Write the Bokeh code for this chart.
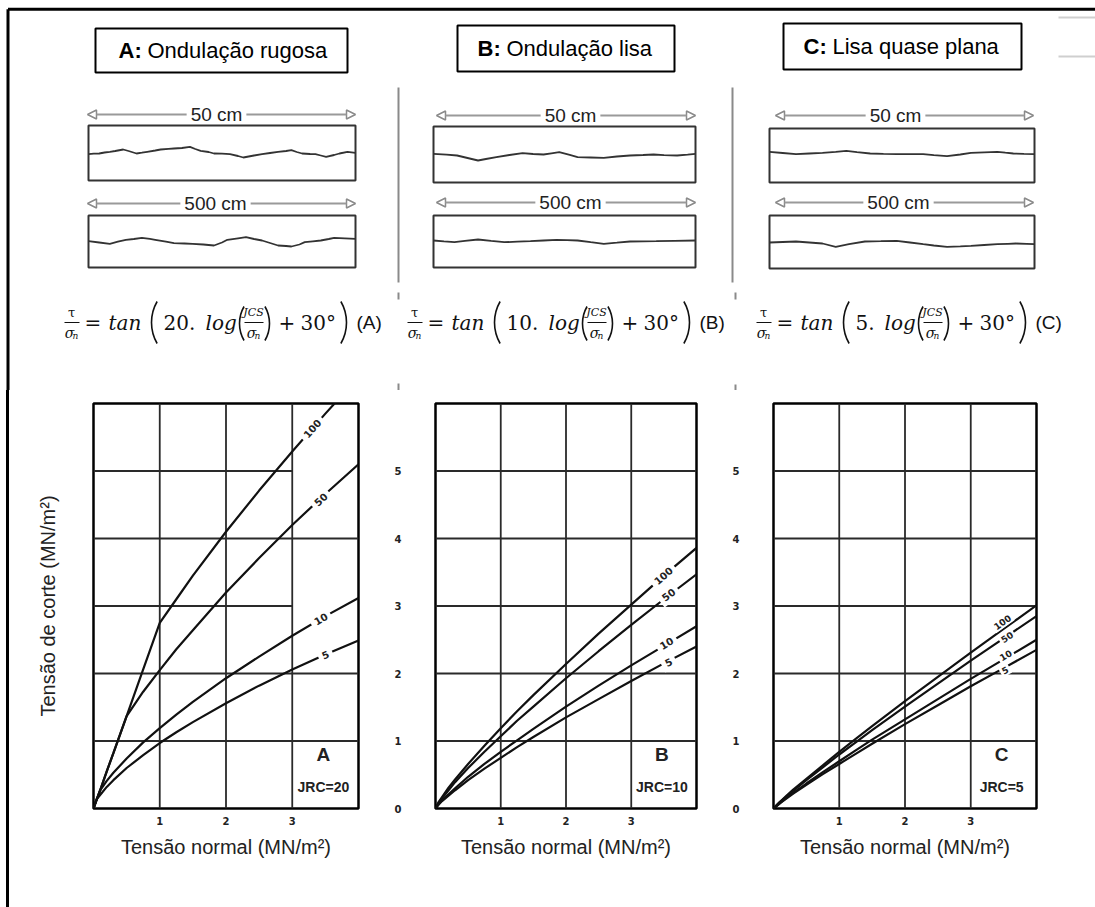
import numpy as np
from bokeh.plotting import figure
from bokeh.layouts import row, column
from bokeh.models import Range1d, FixedTicker, Arrow, NormalHead, Div
from bokeh.core.properties import value
from bokeh.embed import file_html
from bokeh.resources import INLINE

# ---------------- data ----------------
SIGMA_N = [0, 0.05, 0.1, 0.2, 0.3, 0.5, 0.75, 1.0, 1.25, 1.5, 2.0, 2.5, 3.0, 3.5, 4.0]
CURVE_LABELS = ["100", "50", "10", "5"]

TAU_A_100 = [0, 0.14, 0.27, 0.55, 0.82, 1.37, 2.06, 2.75, 3.10, 3.45, 4.10, 4.71, 5.29, 5.85, 6.39]
TAU_A_50 = [0, 0.14, 0.27, 0.55, 0.82, 1.37, 1.73, 2.05, 2.36, 2.64, 3.20, 3.71, 4.20, 4.66, 5.10]
TAU_A_10 = [0, 0.14, 0.27, 0.41, 0.53, 0.74, 0.98, 1.19, 1.39, 1.58, 1.93, 2.25, 2.56, 2.85, 3.12]
TAU_A_5 = [0, 0.14, 0.20, 0.32, 0.42, 0.60, 0.79, 0.97, 1.13, 1.28, 1.56, 1.82, 2.06, 2.28, 2.49]

TAU_B_100 = [0, 0.10, 0.17, 0.31, 0.43, 0.66, 0.93, 1.19, 1.44, 1.68, 2.14, 2.59, 3.02, 3.45, 3.86]
TAU_B_50 = [0, 0.09, 0.15, 0.27, 0.39, 0.60, 0.84, 1.07, 1.30, 1.51, 1.93, 2.33, 2.72, 3.10, 3.47]
TAU_B_10 = [0, 0.07, 0.12, 0.21, 0.30, 0.47, 0.66, 0.84, 1.01, 1.18, 1.51, 1.82, 2.12, 2.41, 2.70]
TAU_B_5 = [0, 0.06, 0.11, 0.19, 0.27, 0.42, 0.59, 0.75, 0.91, 1.06, 1.35, 1.62, 1.89, 2.15, 2.40]

TAU_C_100 = [0, 0.05, 0.10, 0.19, 0.28, 0.44, 0.64, 0.84, 1.03, 1.22, 1.59, 1.95, 2.31, 2.66, 3.01]
TAU_C_50 = [0, 0.05, 0.10, 0.18, 0.26, 0.42, 0.61, 0.80, 0.98, 1.16, 1.51, 1.85, 2.19, 2.52, 2.85]
TAU_C_10 = [0, 0.04, 0.08, 0.16, 0.23, 0.37, 0.54, 0.70, 0.86, 1.02, 1.32, 1.62, 1.92, 2.21, 2.50]
TAU_C_5 = [0, 0.04, 0.08, 0.15, 0.22, 0.35, 0.51, 0.66, 0.81, 0.96, 1.25, 1.53, 1.81, 2.08, 2.35]

LABEL_X_A = [3.30, 3.43, 3.43, 3.50]
LABEL_Y_A = [5.63, 4.58, 2.81, 2.28]
LABEL_X_B = [3.49, 3.57, 3.54, 3.57]
LABEL_Y_B = [3.45, 3.17, 2.45, 2.17]
LABEL_X_C = [3.48, 3.55, 3.53, 3.52]
LABEL_Y_C = [2.76, 2.54, 2.27, 2.05]

X_TICKS = [1, 2, 3]
Y_TICKS = [0, 1, 2, 3, 4, 5]
GRID_X = [1, 2, 3]
GRID_Y = [1, 2, 3, 4, 5]
GRID_Y_END_A = [4, 4, 3, 4, 3]
GRID_Y_END_FULL = [4, 4, 4, 4, 4]

PANEL_LETTERS = ["A", "B", "C"]
PANEL_JRC = ["JRC=20", "JRC=10", "JRC=5"]
TITLE_KEYS = ["A:", "B:", "C:"]
TITLE_NAMES = ["Ondulação rugosa", "Ondulação lisa", "Lisa quase plana"]
EQ_COEFS = ["20.", "10.", "5."]
EQ_TAGS = ["(A)", "(B)", "(C)"]
SCALE_LABELS = ["50 cm", "500 cm"]

# joint profiles: (fraction across box, vertical offset)
PROF_A50_X = [0, .02, .04, .06, .08, .10, .13, .15, .18, .20, .22, .25, .27, .30, .32, .35, .38, .40, .42, .45, .47, .50, .53, .56, .58, .62, .65, .68, .71, .74, .76, .78, .80, .83, .85, .87, .89, .92, .94, .97, 1.0]
PROF_A50_Y = [0.7, 0.2, 0, -1, -1.7, -2.5, -4, -2.5, 0, -0.8, -1.7, -3, -4, -4.6, -5, -5.5, -6.7, -4.5, -2.7, -1.5, 0, 0.2, 0.7, 2.5, 4, 2, 0.7, -0.5, -1.7, -2.5, -3.3, -1.5, 0, 0.5, 0.7, 2, 3.3, 1.5, 0, -1.7, -0.7]
PROF_A500_X = [0, .04, .08, .11, .14, .17, .20, .23, .25, .29, .32, .36, .39, .43, .47, .50, .52, .56, .59, .62, .65, .68, .71, .74, .76, .79, .81, .84, .87, .90, .92, .96, 1.0]
PROF_A500_Y = [0.7, 2, 3.3, 1.2, -0.7, -1.5, -2.7, -1.6, -0.7, 1.2, 2.7, 3, 3.3, 4, 5, 2, -0.7, -2.2, -3.3, -1.5, 0, 2.5, 5, 5.5, 6, 4, 1.7, 0.8, 0, -1.5, -2.7, -2.2, -1.7]
PROF_B50_X = [0, .05, .09, .13, .17, .20, .24, .29, .34, .38, .42, .45, .48, .52, .55, .60, .65, .70, .75, .80, .84, .88, .93, .97, 1]
PROF_B50_Y = [-0.7, 0.2, 1, 3.5, 6, 4.5, 2.7, 0.5, -1.3, -0.5, 0, -1.2, -2.3, 0.3, 2.7, 3, 3.3, 2, 1, 0.5, 0, 0.6, 1, 0.2, -0.7]
PROF_B500_X = [0, .04, .08, .12, .17, .22, .27, .32, .37, .42, .47, .51, .55, .60, .65, .70, .75, .80, .85, .92, 1]
PROF_B500_Y = [0, 0.9, 1.7, 0.4, -1, 0.4, 1.7, 1.2, 0.7, 0, -0.7, -0.4, 0, 1.7, 3.3, 2.2, 1, 0.8, 0.7, 0.3, 0]
PROF_C50_X = [0, .05, .10, .15, .20, .25, .29, .33, .38, .43, .48, .53, .58, .62, .67, .72, .76, .81, .86, .89, .92, .96, 1]
PROF_C50_Y = [-1.7, -0.5, 0.7, 0, -0.7, -1.7, -2.7, -1.4, 0, 0.4, 0.7, 0.7, 0.7, 1.7, 2.7, 1, -0.7, -1.2, -1.7, -0.8, 0, 0.4, 0.7]
PROF_C500_X = [0, .05, .10, .15, .20, .25, .30, .36, .42, .48, .53, .58, .62, .67, .72, .76, .81, .86, .90, .93, .97, 1]
PROF_C500_Y = [0, -0.5, -1, 0, 1, 4.3, 1.7, -1, -1.3, -1.7, 0, 1.7, 3, 4.3, 3.8, 3.3, 2.5, 1.7, 1.3, 1, 1.3, 1.7]

# ---------------- styles / layout ----------------
SANS = "Liberation Sans"
SERIF = "DejaVu Serif"
TICKF = "DejaVu Sans"
W, H_TOP, H_BOT = 1095, 390, 517
INK = "#111"

top = figure(width=W, height=H_TOP, x_range=Range1d(0, W), y_range=Range1d(H_TOP, 0),
             min_border=0, toolbar_location=None, output_backend="svg",
             x_axis_location=None, y_axis_location=None, outline_line_color=None)
top.xgrid.visible = False
top.ygrid.visible = False

# outer frame
top.segment(x0=[7.5, 7.5], y0=[8.7, 8.7], x1=[W, 7.5], y1=[8.7, H_TOP], line_color="black", line_width=3)
top.segment(x0=[1058, 1058], y0=[17, 56], x1=[W, W], y1=[17, 56], line_color="#cfcfcf", line_width=2)

# title boxes
top.quad(left=[95, 457, 783], right=[347, 674, 1021], top=[28, 25, 23], bottom=[72, 71, 69],
         fill_color="white", line_color="black", line_width=2)
title_x = [118, 477, 803]
title_y = [50, 48, 46]
top.text(x=title_x, y=title_y, text=TITLE_KEYS, text_font=value(SANS), text_font_size="22px",
         text_font_style="bold", text_color="black", text_baseline="middle", text_align="left")
top.text(x=[v + 29 for v in title_x], y=title_y, text=TITLE_NAMES, text_font=value(SANS),
         text_font_size="22px", text_color="black", text_baseline="middle", text_align="left")

# dividers
top.segment(x0=[398, 732, 398, 398, 735, 735], y0=[87, 87, 292, 383, 292, 384],
            x1=[398, 732, 398, 398, 735, 735], y1=[282, 282, 299, 390, 299, 390],
            line_color="#8a8a8a", line_width=2)

# profile panels
box_l = [88, 433, 769]
box_r = [355, 695, 1034]
box1_t = [125, 126, 128]
box1_b = [180, 182, 182]
box2_t = [215, 215, 215]
box2_b = [267, 267, 268]
prof1_c = [153, 154, 153]
prof2_c = [240, 240, 242]
arr_l = [87, 436, 775]
arr_r = [355, 695, 1033]
arr1_y = [114, 115, 115]
arr2_y = [203, 202, 202]
lab1_x = [216, 570, 895]
lab2_x = [215, 570, 898]
profiles = [(PROF_A50_X, PROF_A50_Y, PROF_A500_X, PROF_A500_Y),
            (PROF_B50_X, PROF_B50_Y, PROF_B500_X, PROF_B500_Y),
            (PROF_C50_X, PROF_C50_Y, PROF_C500_X, PROF_C500_Y)]

for i in range(3):
    for ay in (arr1_y[i], arr2_y[i]):
        arr = Arrow(start=NormalHead(size=9, fill_color="white", line_color="#8a8a8a", line_width=1.5),
                    end=NormalHead(size=9, fill_color="white", line_color="#8a8a8a", line_width=1.5),
                    x_start=arr_l[i], y_start=ay, x_end=arr_r[i], y_end=ay,
                    line_color="#9a9a9a", line_width=2, level="underlay")
        top.add_layout(arr)
    top.text(x=[lab1_x[i], lab2_x[i]], y=[arr1_y[i], arr2_y[i]], text=SCALE_LABELS,
             text_font=value(SANS), text_font_size="19px", text_color="#222",
             text_align="center", text_baseline="middle",
             background_fill_color="white", padding=4)
    top.quad(left=[box_l[i]] * 2, right=[box_r[i]] * 2, top=[box1_t[i], box2_t[i]],
             bottom=[box1_b[i], box2_b[i]], fill_color=None, line_color="#333", line_width=2)
    px1, py1, px2, py2 = profiles[i]
    bw = box_r[i] - box_l[i]
    top.line([box_l[i] + f * bw for f in px1], [prof1_c[i] + d for d in py1], line_color="#333", line_width=1.8)
    top.line([box_l[i] + f * bw for f in px2], [prof2_c[i] + d for d in py2], line_color="#333", line_width=1.8)

# equations
EQ_X0 = [64, 407, 756]
EQ_Y = 322


def t(x, y, s, size, style="italic", font=SERIF, align="left"):
    top.text(x=[x], y=[y], text=[s], text_font=value(font), text_font_size=size,
             text_font_style=style, text_color=INK, text_align=align, text_baseline="middle")


def paren(x, y, h, side):
    r = h
    if side == "l":
        top.arc(x=[x + r], y=[y], radius=r, start_angle=np.radians(150), end_angle=np.radians(210),
                line_color=INK, line_width=1.6)
    else:
        top.arc(x=[x - r], y=[y], radius=r, start_angle=np.radians(-30), end_angle=np.radians(30),
                line_color=INK, line_width=1.6)


for i in range(3):
    x0 = EQ_X0[i]
    sh = 0 if len(EQ_COEFS[i]) == 3 else -13
    yc = EQ_Y
    # tau / sigma_n
    t(x0 + 7, yc - 10, "τ", "13px", "normal", SERIF, "center")
    top.segment(x0=[x0], y0=[yc], x1=[x0 + 15], y1=[yc], line_color=INK, line_width=1)
    t(x0 + 5, yc + 10, "σ", "14px", "italic", SERIF, "center")
    t(x0 + 11, yc + 13, "n", "9px", "italic", SERIF, "center")
    t(x0 + 20, yc, "=", "20px", "normal", SERIF)
    t(x0 + 44, yc, "tan", "20px", "italic", SERIF)
    paren(x0 + 87, yc, 42, "l")
    t(x0 + 99, yc, EQ_COEFS[i], "20px", "normal", SERIF)
    t(x0 + 141 + sh, yc, "log", "20px", "italic", SERIF)
    paren(x0 + 175 + sh, yc + 1, 34, "l")
    t(x0 + 189 + sh, yc - 10, "JCS", "11px", "italic", SERIF, "center")
    top.segment(x0=[x0 + 180 + sh], y0=[yc], x1=[x0 + 199 + sh], y1=[yc], line_color=INK, line_width=1)
    t(x0 + 187 + sh, yc + 10, "σ", "14px", "italic", SERIF, "center")
    t(x0 + 193 + sh, yc + 13, "n", "9px", "italic", SERIF, "center")
    paren(x0 + 205 + sh, yc + 1, 34, "r")
    t(x0 + 214 + sh, yc, "+", "20px", "normal", SERIF)
    t(x0 + 236 + sh, yc, "30°", "20px", "normal", SERIF)
    paren(x0 + 282 + sh, yc, 42, "r")
    t(x0 + 292 + sh, yc, EQ_TAGS[i], "19px", "normal", SANS)

# ---------------- charts ----------------
FT, FB = 13, 99


def chart(width, left, right, taus, label_xs, label_ys, letter, jrc, y_ticks, y_label, grid_end, lab_size, lab_pad):
    p = figure(width=width, height=H_BOT, x_range=Range1d(0, 4), y_range=Range1d(0, 6),
               min_border_left=left, min_border_right=right, min_border_top=FT, min_border_bottom=FB,
               toolbar_location=None, output_backend="svg",
               outline_line_color="black", outline_line_width=2.5)
    p.xgrid.visible = False
    p.ygrid.visible = False
    for ax in (p.xaxis[0], p.yaxis[0]):
        ax.axis_line_color = None
        ax.major_tick_line_color = None
        ax.minor_tick_line_color = None
        ax.major_tick_out = 0
        ax.major_tick_in = 0
        ax.major_label_text_font = TICKF
        ax.major_label_text_font_style = "bold"
        ax.major_label_text_font_size = "10px"
        ax.major_label_text_color = "#222"
        ax.axis_label_text_font = SANS
        ax.axis_label_text_font_style = "normal"
        ax.axis_label_text_font_size = "20px"
        ax.axis_label_text_color = "#222"
    p.xaxis.ticker = FixedTicker(ticks=X_TICKS)
    p.xaxis.major_label_standoff = 8
    p.xaxis.axis_label = "Tensão normal (MN/m²)"
    p.xaxis.axis_label_standoff = 8
    p.yaxis.ticker = FixedTicker(ticks=y_ticks)
    if y_label:
        p.yaxis.axis_label = y_label
        p.yaxis.major_label_standoff = 0
        p.yaxis.axis_label_standoff = 35
    else:
        p.yaxis.major_label_standoff = 34

    # grid
    p.segment(x0=GRID_X, y0=[0] * len(GRID_X), x1=GRID_X, y1=[6] * len(GRID_X), line_color="#2a2a2a", line_width=1.8)
    p.segment(x0=[0] * len(GRID_Y), y0=GRID_Y, x1=grid_end, y1=GRID_Y, line_color="#2a2a2a", line_width=1.8)

    fw = width - left - right
    fh = H_BOT - FT - FB
    ratio = (fh / 6.0) / (fw / 4.0)
    la = []
    for tau, xl in zip(taus, label_xs):
        p.line(SIGMA_N, tau, line_color=INK, line_width=2.2)
        slope = (np.interp(xl + 0.15, SIGMA_N, tau) - np.interp(xl - 0.15, SIGMA_N, tau)) / 0.3
        la.append(float(np.arctan(slope * ratio)))
    p.text(x=label_xs, y=label_ys, text=CURVE_LABELS, angle=la, text_font=value(TICKF), text_font_size=lab_size,
           text_font_style="bold", text_color="#222", text_align="center", text_baseline="middle",
           background_fill_color="white", padding=lab_pad)
    p.text(x=[3.47], y=[0.8], text=[letter], text_font=value(SANS), text_font_size="19px",
           text_font_style="bold", text_color="#222", text_align="center", text_baseline="middle")
    p.text(x=[3.47], y=[0.32], text=[jrc], text_font=value(SANS), text_font_size="14px",
           text_font_style="bold", text_color="#222", text_align="center", text_baseline="middle")
    return p


pA = chart(360, 73, 22, [TAU_A_100, TAU_A_50, TAU_A_10, TAU_A_5], LABEL_X_A, LABEL_Y_A,
           PANEL_LETTERS[0], PANEL_JRC[0], [], "Tensão de corte (MN/m²)", GRID_Y_END_A, "10px", 4)
pB = chart(335, 55, 19, [TAU_B_100, TAU_B_50, TAU_B_10, TAU_B_5], LABEL_X_B, LABEL_Y_B,
           PANEL_LETTERS[1], PANEL_JRC[1], Y_TICKS, None, GRID_Y_END_FULL, "10px", 4)
pC = chart(380, 58, 59, [TAU_C_100, TAU_C_50, TAU_C_10, TAU_C_5], LABEL_X_C, LABEL_Y_C,
           PANEL_LETTERS[2], PANEL_JRC[2], Y_TICKS, None, GRID_Y_END_FULL, "9px", 2)

edge = Div(text="", width=20, height=H_BOT, margin=(0, 0, 0, 0),
           styles={"background": "linear-gradient(to right, #fff 6px, #000 6px, #000 9px, #fff 9px)"})

layout = column(top, row(edge, pA, pB, pC))
open("out.html", "w").write(file_html(layout, INLINE))
